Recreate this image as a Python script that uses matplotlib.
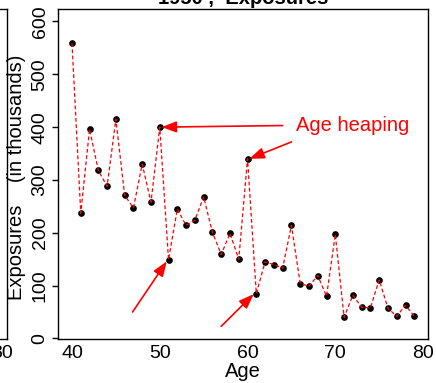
import matplotlib
matplotlib.use('Agg')
import matplotlib.pyplot as plt

plt.rcParams['font.family'] = ['Liberation Sans', 'DejaVu Sans']

# exposures by age, in thousands
ages = list(range(40, 80))
exposures = [559, 237, 396, 318, 288, 415, 271, 247, 330, 258,
             400, 149, 245, 214, 224, 268, 201, 159, 199, 150,
             340, 85, 145, 140, 133, 214, 104, 99, 119, 80,
             197, 40, 82, 59, 58, 111, 57, 42, 63, 42]

# arrows: (tail, head) in data units
arrows = [((64.0, 403), (50.2, 400)),
          ((65.0, 372), (60.2, 340)),
          ((46.9, 50), (50.8, 146)),
          ((57.0, 23), (60.7, 84))]

fig = plt.figure(figsize=(4.36, 3.83), dpi=100)
L, B, W, H = 58.3/436, 1 - 339/383, (428 - 58.3)/436, (339 - 9.3)/383

# neighbouring panel, only its right edge shows
ax0 = fig.add_axes([6.7/436 - W, B, W, H])
ax0.set_xlim(38.44, 80.56)
ax0.set_ylim(-1, 623)
ax0.set_xticks([80])
ax0.set_yticks([])
ax0.tick_params(axis='x', length=0, pad=4.5, labelsize=14)
for s in ax0.spines.values():
    s.set_linewidth(1.0)

ax = fig.add_axes([L, B, W, H])
ax.plot(ages, exposures, 'o', color='black', markersize=3.8, zorder=2)
ax.plot(ages, exposures, color='red', linestyle=(0, (3, 2)), linewidth=0.9, zorder=3)

for (x0, y0), (x1, y1) in arrows:
    ax.annotate('', xy=(x1, y1), xytext=(x0, y0),
                arrowprops=dict(arrowstyle='-|>,head_length=0.75,head_width=0.28',
                                color='red', lw=1.2, mutation_scale=12,
                                shrinkA=0, shrinkB=0))
ax.text(65.5, 404, 'Age heaping', color='red', fontsize=14.5, va='center', ha='left')

ax.set_xlim(38.44, 80.56)
ax.set_ylim(-1, 623)
ax.set_xticks([40, 50, 60, 70, 80])
ax.set_yticks([0, 100, 200, 300, 400, 500, 600])
ax.tick_params(axis='x', length=0, pad=4.5, labelsize=14)
ax.tick_params(axis='y', length=4.5, width=1.0, pad=2.5, labelsize=14, labelrotation=90)
for lab in ax.get_yticklabels():
    lab.set_va('center')
for s in ax.spines.values():
    s.set_linewidth(1.0)

ax.set_xlabel('Age', fontsize=14.5, va='center')
ax.xaxis.set_label_coords(0.5, -0.100)
ax.set_ylabel('Exposures    (in thousands)', fontsize=14.5, va='center')
ax.yaxis.set_label_coords(-0.112, 0.49)
ax.set_title('1950 ,  Exposures', fontsize=14.5, fontweight='bold', pad=3.8)

fig.savefig('out.png', dpi=100)
